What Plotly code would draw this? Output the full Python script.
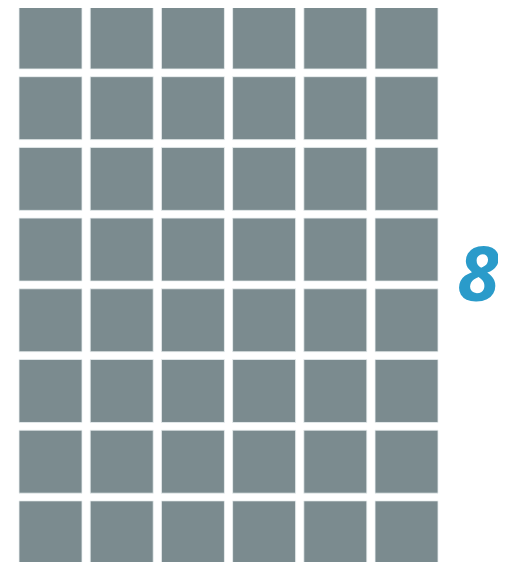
import plotly.graph_objects as go

n_cols = 6
n_rows = 8
label_text = "8"
cell_color = "#7B8B8F"
accent_color = "#2A9BCA"

cols = [c for r in range(n_rows) for c in range(n_cols)]
rows = [r for r in range(n_rows) for c in range(n_cols)]

fig = go.Figure()
fig.add_trace(go.Scatter(
    x=cols, y=rows, mode="markers",
    marker=dict(symbol="square", size=63, color=cell_color,
                line=dict(width=1, color="rgba(235,240,241,0.8)")),
    hoverinfo="skip", showlegend=False, cliponaxis=True,
))
fig.add_annotation(x=6.01, y=3.31, text=label_text, showarrow=False,
                   font=dict(family="Open Sans", size=76, color=accent_color,
                             weight="bold", style="italic"),
                   xanchor="center", yanchor="middle")

fig.update_layout(
    width=498, height=554,
    margin=dict(l=0, r=0, t=0, b=0),
    paper_bgcolor="white", plot_bgcolor="white",
    xaxis=dict(range=[-0.597, 6.397], visible=False, fixedrange=True),
    yaxis=dict(range=[7.419, -0.417], visible=False, fixedrange=True),
)
fig.write_html("out.html")
